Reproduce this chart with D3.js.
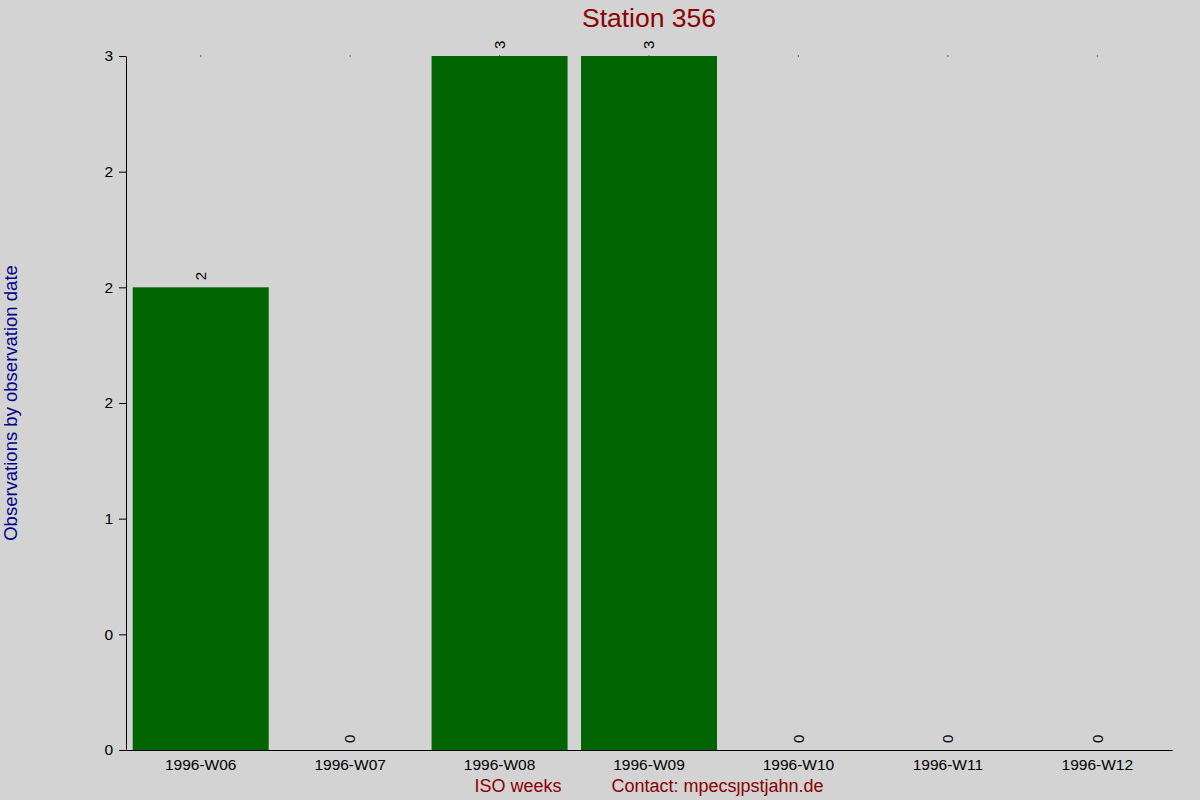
<!DOCTYPE html>
<html>
<head>
<meta charset="utf-8">
<script src="https://cdn.jsdelivr.net/npm/d3@7"></script>
<style>
  body { margin: 0; background: #d3d3d3; }
  svg { display: block; font-family: "Liberation Sans", Arial, sans-serif; }
</style>
</head>
<body>
<svg id="chart" width="1200" height="800"></svg>
<script>
// Weekly observation counts
const weeks = ["1996-W06", "1996-W07", "1996-W08", "1996-W09", "1996-W10", "1996-W11", "1996-W12"];
const counts = [2, 0, 3, 3, 0, 0, 0];

// Y ticks every half step, labels as the source prints them (rounded)
const yTickValues = [0, 0.5, 1, 1.5, 2, 2.5, 3];
const yTickLabels = ["0", "0", "1", "2", "2", "2", "3"];

const margin = { top: 56, right: 28, bottom: 50, left: 126 };
const width = 1200, height = 800;

const svg = d3.select("#chart");

svg.append("rect")
    .attr("width", width)
    .attr("height", height)
    .attr("fill", "#d3d3d3");

const x = d3.scaleBand()
    .domain(weeks)
    .range([margin.left, width - margin.right])
    .paddingInner(0.09)
    .paddingOuter(0.045);

const y = d3.scaleLinear()
    .domain([0, d3.max(counts)])
    .range([height - margin.bottom, margin.top]);

// Bars
svg.append("g")
    .selectAll("rect")
    .data(counts)
    .join("rect")
    .attr("x", (d, i) => x(weeks[i]))
    .attr("y", d => y(d))
    .attr("width", x.bandwidth())
    .attr("height", d => y(0) - y(d))
    .attr("fill", "#006400");

// tiny markers on the top line
svg.append("g")
    .selectAll("rect")
    .data(weeks)
    .join("rect")
    .attr("x", d => x(d) + x.bandwidth() / 2 - 0.5)
    .attr("y", y(d3.max(counts)) - 0.5)
    .attr("width", 1)
    .attr("height", 1)
    .attr("fill", "#000");

// Value labels, rotated
svg.append("g")
    .selectAll("text")
    .data(counts)
    .join("text")
    .attr("transform", (d, i) =>
        "translate(" + (x(weeks[i]) + x.bandwidth() / 2) + "," + (y(d) - 7) + ") rotate(-90)")
    .attr("dy", "0.35em")
    .attr("font-size", 15)
    .attr("fill", "#000")
    .text(d => d);

// Y axis
const yAxis = svg.append("g")
    .attr("transform", "translate(" + margin.left + ",0)")
    .call(d3.axisLeft(y)
        .tickValues(yTickValues)
        .tickFormat((d, i) => yTickLabels[i])
        .tickSize(7)
        .tickPadding(6)
        .tickSizeOuter(0));
yAxis.selectAll("text").attr("font-size", 15.5).attr("fill", "#000").attr("font-family", null);
yAxis.selectAll("line, path").attr("stroke", "#000");

// X axis
const xAxis = svg.append("g")
    .attr("transform", "translate(0," + y(0) + ")")
    .call(d3.axisBottom(x).tickSize(0).tickPadding(9).tickSizeOuter(0));
xAxis.selectAll("text").attr("font-size", 15.5).attr("fill", "#000").attr("font-family", null);
xAxis.selectAll("path").attr("stroke", "#000");

const cx = (margin.left + width - margin.right) / 2;

// Title
svg.append("text")
    .attr("x", cx)
    .attr("y", 27)
    .attr("text-anchor", "middle")
    .attr("font-size", 26.5)
    .attr("fill", "#8b0000")
    .text("Station 356");

// X label + contact
svg.append("text")
    .attr("x", cx)
    .attr("y", 792)
    .attr("text-anchor", "middle")
    .attr("font-size", 18)
    .attr("fill", "#8b0000")
    .style("white-space", "pre")
    .text("ISO weeks          Contact: mpecs\u0237pstjahn.de");

// Y label
svg.append("text")
    .attr("transform", "translate(17," + ((margin.top + height - margin.bottom) / 2) + ") rotate(-90)")
    .attr("text-anchor", "middle")
    .attr("font-size", 18.5)
    .attr("fill", "#00008b")
    .text("Observations by observation date");
</script>
</body>
</html>
